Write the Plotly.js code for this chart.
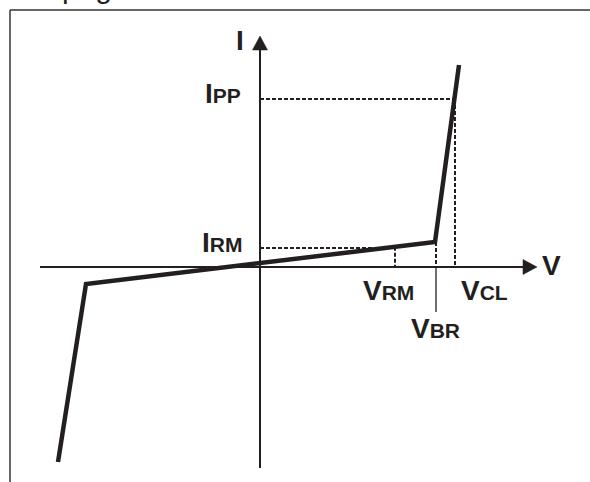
<!DOCTYPE html>
<html>
<head>
<meta charset="utf-8">
<script src="https://cdn.plot.ly/plotly-3.0.1.min.js"></script>
<style>html,body{margin:0;padding:0;background:#fff;}#chart{width:590px;height:482px;}</style>
</head>
<body>
<div id="chart"></div>
<script>
// Characteristic I-V curve of a TVS diode (arbitrary units)
const curveV = [-20.2, -17.4, 17.5, 19.9];
const curveI = [-19.5, -1.7, 2.5, 20.2];

// Key levels
const V_RM = 13.5;
const V_BR = 17.6;
const V_CL = 19.5;
const I_RM = 1.9;
const I_PP = 16.8;

// Axis extents
const xAxisMin = -22.0, xAxisTip = 27.7;
const yAxisMin = -20.1, yAxisTip = 23.1;
const headLen = 1.4, headHalf = 0.75;
const vbrTickEnd = -4.5;

const ink = '#231f20';
const font = 'Liberation Sans, Arial, sans-serif';

const traces = [];
function line(xs, ys, width, dash) {
  traces.push({x: xs, y: ys, mode: 'lines', hoverinfo: 'skip', showlegend: false,
    line: {color: ink, width: width, dash: dash || 'solid'}});
}
function tri(xs, ys) {
  traces.push({x: xs, y: ys, mode: 'lines', fill: 'toself', fillcolor: ink, hoverinfo: 'skip',
    showlegend: false, line: {color: ink, width: 0.5}});
}

// axes
line([xAxisMin, xAxisTip - headLen], [0, 0], 2);
line([0, 0], [yAxisMin, yAxisTip - headLen], 2);
tri([xAxisTip - headLen, xAxisTip - headLen, xAxisTip, xAxisTip - headLen], [headHalf, -headHalf, 0, headHalf]);
tri([-headHalf, headHalf, 0, -headHalf], [yAxisTip - headLen, yAxisTip - headLen, yAxisTip, yAxisTip - headLen]);

// dashed guides
const dash = '4px,2px';
const dw = 2;
line([0, V_CL], [I_PP, I_PP], dw, dash);
line([V_CL, V_CL], [I_PP, 0], dw, dash);
line([0, V_RM], [I_RM, I_RM], dw, dash);
const iAtVrm = curveI[1] + (V_RM - curveV[1]) * (curveI[2] - curveI[1]) / (curveV[2] - curveV[1]);
line([V_RM, V_RM], [iAtVrm, 0], dw, dash);
const iAtVbr = curveI[2];
line([V_BR, V_BR], [iAtVbr, 0], dw, dash);
line([V_BR, V_BR], [0, vbrTickEnd], 1.3);

// curve
line(curveV, curveI, 4.5);

function lab(main, sub) {
  return main + (sub ? '<span style="font-size:21px">' + sub + '</span>' : '');
}
const annotations = [
  {x: -2.0, y: 22.7, text: 'I', xanchor: 'center', yanchor: 'middle'},
  {x: 29.1, y: 0.2, text: 'V', xanchor: 'center', yanchor: 'middle'},
  {x: -1.7, y: I_PP + 0.6, text: lab('I', 'PP'), xanchor: 'right', yanchor: 'middle'},
  {x: -1.6, y: I_RM + 0.6, text: lab('I', 'RM'), xanchor: 'right', yanchor: 'middle'},
  {x: 12.8, y: -2.3, text: lab('V', 'RM'), xanchor: 'center', yanchor: 'middle'},
  {x: 22.4, y: -2.3, text: lab('V', 'CL'), xanchor: 'center', yanchor: 'middle'},
  {x: 17.5, y: -6.1, text: lab('V', 'BR'), xanchor: 'center', yanchor: 'middle'}
].map(a => Object.assign({showarrow: false, font: {family: font, size: 28, color: ink, weight: 'bold'}}, a));

annotations.push({xref: 'paper', yref: 'paper', x: 60 / 590, y: 1 - 6 / 482, xanchor: 'left', yanchor: 'bottom',
  text: 'page', showarrow: false, font: {family: font, size: 30, color: ink}});

const layout = {
  width: 590, height: 482,
  margin: {l: 0, r: 0, t: 0, b: 0},
  paper_bgcolor: '#fff', plot_bgcolor: '#fff',
  xaxis: {range: [-26.0, 33.0], visible: false, fixedrange: true},
  yaxis: {range: [-21.5, 26.7], visible: false, fixedrange: true},
  showlegend: false,
  annotations: annotations,
  shapes: [
    {type: 'line', xref: 'paper', yref: 'paper', x0: 10 / 590, x1: 10 / 590, y0: 0, y1: 1 - 10 / 482, line: {color: '#333', width: 1.5}},
    {type: 'line', xref: 'paper', yref: 'paper', x0: 10 / 590, x1: 1, y0: 1 - 10 / 482, y1: 1 - 10 / 482, line: {color: '#333', width: 1.5}}
  ]
};

Plotly.newPlot('chart', traces, layout, {staticPlot: true, displayModeBar: false});
</script>
</body>
</html>
